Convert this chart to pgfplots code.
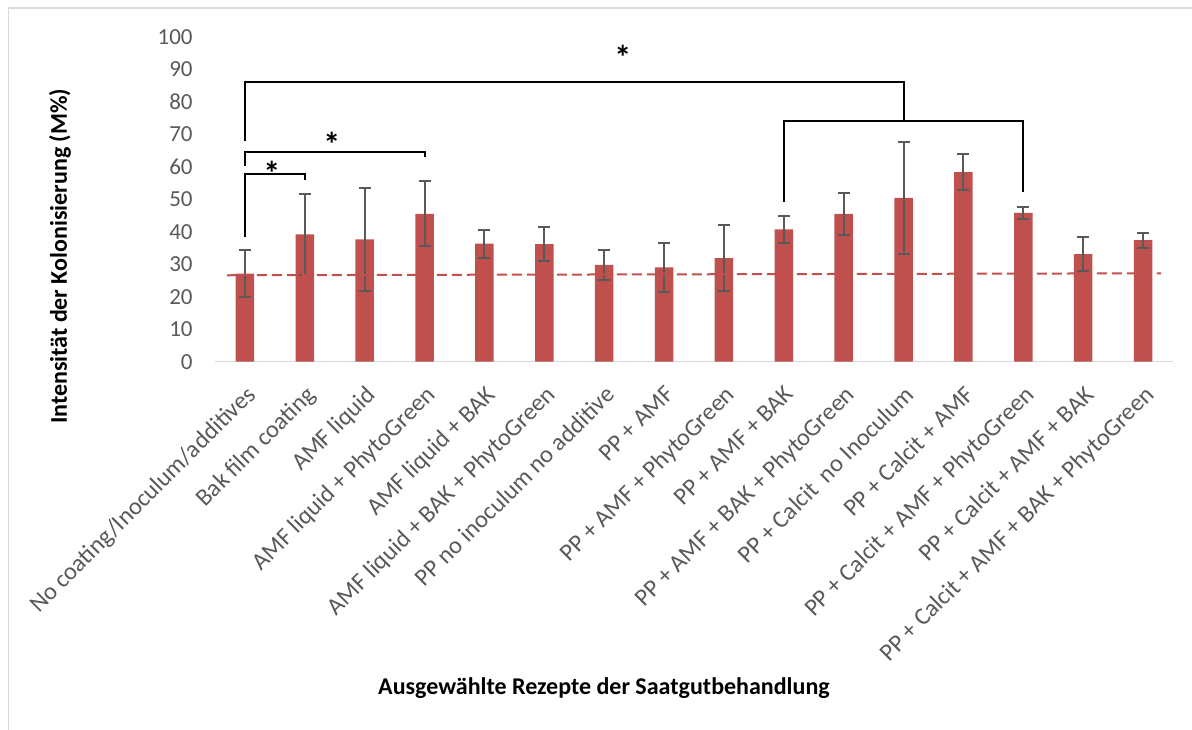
\documentclass[border=0pt]{standalone}
\usepackage{pgfplots}
\pgfplotsset{compat=1.18}
\usepackage{fontspec}
\setmainfont{Carlito}
\definecolor{barred}{HTML}{C0504D}
\definecolor{tickgray}{HTML}{595959}
\definecolor{axgray}{HTML}{D9D9D9}
\begin{document}
\begin{tikzpicture}
\path[use as bounding box] (-107.5pt,-183.65pt) rectangle (488.5pt,180.85pt);
\draw[axgray, line width=0.9pt] (-103.25pt,-190pt) -- (-103.25pt,176.85pt) -- (500pt,176.85pt);
\begin{axis}[
  at={(0,0)}, anchor=south west,
  scale only axis, width=479pt, height=162.5pt,
  xmin=-0.5, xmax=15.5, ymin=0, ymax=100,
  ytick={0,10,...,100},
  xtick=data,
  xticklabels={No coating/Inoculum/additives, Bak film coating, AMF liquid, AMF liquid + PhytoGreen, AMF liquid + BAK, AMF liquid + BAK + PhytoGreen, PP no inoculum no additive, PP + AMF, PP + AMF + PhytoGreen, PP + AMF + BAK, PP + AMF + BAK + PhytoGreen, PP + Calcit\ \ no Inoculum, PP + Calcit + AMF, PP + Calcit + AMF + PhytoGreen, PP + Calcit + AMF + BAK, PP + Calcit + AMF + BAK + PhytoGreen},
  axis line style={draw=none},
  major tick length=0pt,
  ticklabel style={text=tickgray},
  yticklabel style={font=\fontsize{11.5}{13}\selectfont, anchor=east, inner sep=0pt, xshift=-11pt},
  xticklabel style={font=\fontsize{12.2}{14}\selectfont, xshift=0pt, yshift=-11pt, rotate=45, anchor=north east, inner sep=0pt},
  /pgf/number format/assume math mode=true,
  xlabel={Ausgewählte Rezepte der Saatgutbehandlung},
  ylabel={Intensität der Kolonisierung (M\%)},
  label style={font=\bfseries\fontsize{12}{14}\selectfont, text=black},
  xlabel style={at={(rel axis cs:0.406,-1.003)}, anchor=center},
  ylabel style={at={(rel axis cs:-0.1618,0.324)}, anchor=center},
  clip=false,
]
\draw[axgray, line width=0.75pt] (rel axis cs:0,0) -- (rel axis cs:1,0);
\addplot[ybar, bar width=9.25pt, fill=barred, draw=none,
  error bars/.cd, y dir=both, y explicit,
  error bar style={line width=1pt, tickgray},
  error mark options={line width=1pt, tickgray, mark size=3pt, rotate=90}]
coordinates {
(0,27.1) +- (0,7.3)
(1,39.2) +- (0,12.5)
(2,37.65) +- (0,15.85)
(3,45.5) +- (0,9.95)
(4,36.3) +- (0,4.25)
(5,36.2) +- (0,5.3)
(6,29.8) +- (0,4.65)
(7,29.0) +- (0,7.65)
(8,31.9) +- (0,10.25)
(9,40.7) +- (0,4.25)
(10,45.5) +- (0,6.55)
(11,50.4) +- (0,17.15)
(12,58.3) +- (0,5.6)
(13,45.8) +- (0,1.8)
(14,33.1) +- (0,5.3)
(15,37.4) +- (0,2.35)
};
\addplot[barred, line width=1pt, dash pattern=on 5pt off 2.5pt] coordinates {(-0.3,26.6) (15.3,27.2)};
\draw[line width=1pt] (axis cs:0,38.5) -- (axis cs:0,57.7) -- (axis cs:1,57.7) -- (axis cs:1,55.9);
\draw[line width=1pt] (axis cs:0,60.3) -- (axis cs:0,64.5) -- (axis cs:3,64.5) -- (axis cs:3,63.1);
\draw[line width=1pt] (axis cs:0,68.0) -- (axis cs:0,86.2) -- (axis cs:11,86.2) -- (axis cs:11,74.5);
\draw[line width=1pt] (axis cs:9,49.2) -- (axis cs:9,74.2) -- (axis cs:13,74.2) -- (axis cs:13,52.1);
\node[font=\bfseries\fontsize{17}{19}\selectfont] at (axis cs:0.45,57.9) {*};
\node[font=\bfseries\fontsize{17}{19}\selectfont] at (axis cs:1.45,67.0) {*};
\node[font=\bfseries\fontsize{17}{19}\selectfont] at (axis cs:6.31,93.5) {*};
\end{axis}
\end{tikzpicture}
\end{document}
